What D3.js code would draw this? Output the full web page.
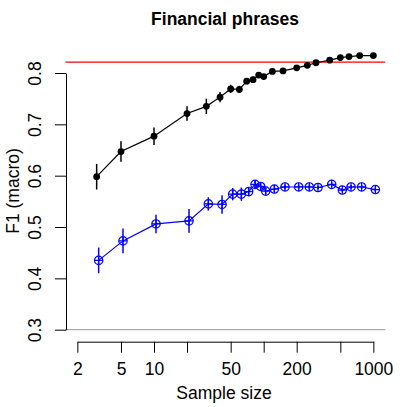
<!DOCTYPE html>
<html>
<head>
<meta charset="utf-8">
<script src="https://cdn.jsdelivr.net/npm/d3@7"></script>
<style>
  body { margin: 0; background: #fff; }
  svg { display: block; font-family: "Liberation Sans", Arial, sans-serif; }
</style>
</head>
<body>
<svg width="407" height="407"></svg>
<script>
// sample sizes (shared by both series)
var sampleSizes = [3, 5, 10, 20, 30, 40, 50, 60, 70, 80, 90, 100, 120, 150, 200, 250, 300, 400, 500, 600, 750, 1000];

// black series: mean F1 and error half-width
var blackF1  = [0.598, 0.647, 0.677, 0.721, 0.735, 0.753, 0.769, 0.768, 0.784, 0.787, 0.796, 0.793,
                0.803, 0.804, 0.810, 0.815, 0.820, 0.825, 0.830, 0.832, 0.834, 0.834];
var blackErr = [0.025, 0.020, 0.017, 0.014, 0.015, 0.010, 0.008, 0.007, 0.006, 0.006, 0.005, 0.005,
                0.004, 0.004, 0.003, 0.003, 0.003, 0.002, 0.002, 0.002, 0.002, 0.002];

// blue series
var blueF1  = [0.435, 0.473, 0.506, 0.512, 0.545, 0.544, 0.564, 0.564, 0.569, 0.583, 0.579, 0.570,
               0.574, 0.578, 0.578, 0.578, 0.577, 0.583, 0.572, 0.578, 0.578, 0.573];
var blueErr = [0.025, 0.024, 0.018, 0.023, 0.013, 0.018, 0.012, 0.013, 0.009, 0.008, 0.007, 0.006,
               0.006, 0.005, 0.005, 0.005, 0.004, 0.004, 0.004, 0.004, 0.004, 0.004];

var refLine = 0.821;
var baseLine = 0.3;

var xTicks = [2, 5, 10, 20, 50, 100, 200, 500, 1000];
var xLabelled = [2, 5, 10, 50, 200, 1000];
var yTicks = [0.3, 0.4, 0.5, 0.6, 0.7, 0.8];

var svg = d3.select('svg');
var left = 65.5, right = 385.2;
var fs = '17.5px';

var x = d3.scaleLog()
    .domain([Math.pow(10, 0.193), Math.pow(10, 3.108)])
    .range([left, right]);

var y = d3.scaleLinear()
    .domain([0.3, 0.8])
    .range([329.7, 73]);

var blueDodge = 2;

// title
svg.append('text')
    .attr('x', 225)
    .attr('y', 25)
    .attr('text-anchor', 'middle')
    .attr('font-weight', 'bold')
    .attr('font-size', '17.5px')
    .text('Financial phrases');

// reference lines
svg.append('line')
    .attr('x1', left).attr('x2', right)
    .attr('y1', y(baseLine)).attr('y2', y(baseLine))
    .attr('stroke', '#aaaaaa')
    .attr('stroke-width', 1.2);

svg.append('line')
    .attr('x1', left).attr('x2', right)
    .attr('y1', y(refLine)).attr('y2', y(refLine))
    .attr('stroke', '#ff0000')
    .attr('stroke-width', 1.2);

// x axis (line only spans 2..1000)
var xAxisScale = x.copy().domain([2, 1000]).range([x(2), x(1000)]);
var xAxis = d3.axisBottom(xAxisScale)
    .tickValues(xTicks)
    .tickSize(11)
    .tickSizeOuter(0)
    .tickPadding(10)
    .tickFormat(d => xLabelled.indexOf(d) >= 0 ? String(d) : '');

var gx = svg.append('g')
    .attr('transform', 'translate(0,' + 341.7 + ')')
    .call(xAxis);
gx.selectAll('text').attr('font-size', fs).attr('fill', '#000').attr('font-family', null);
gx.selectAll('line, path').attr('stroke', '#000').attr('stroke-width', 1);

svg.append('text')
    .attr('x', 224)
    .attr('y', 399)
    .attr('text-anchor', 'middle')
    .attr('font-size', fs)
    .text('Sample size');

// y axis
var yAxis = d3.axisLeft(y)
    .tickValues(yTicks)
    .tickSize(11)
    .tickSizeOuter(0)
    .tickFormat(d3.format('.1f'));

var gy = svg.append('g')
    .attr('transform', 'translate(' + 66 + ',0)')
    .call(yAxis);
gy.selectAll('line, path').attr('stroke', '#000').attr('stroke-width', 1);
gy.selectAll('text')
    .attr('x', null)
    .attr('dy', '0.35em')
    .attr('text-anchor', 'middle')
    .attr('transform', 'translate(-31.5,0) rotate(-90)')
    .attr('font-size', fs)
    .attr('font-family', null)
    .attr('fill', '#000');

svg.append('text')
    .attr('transform', 'translate(13,191) rotate(-90)')
    .attr('dy', '0.35em')
    .attr('text-anchor', 'middle')
    .attr('font-size', fs)
    .text('F1 (macro)');

// series
function series(values, errs, color, dodge) {
    var pts = sampleSizes.map((n, i) => ({ n: n, v: values[i], e: errs[i] }));
    var g = svg.append('g');
    var line = d3.line()
        .x(d => x(d.n) + dodge)
        .y(d => y(d.v));
    g.append('path')
        .datum(pts)
        .attr('d', line)
        .attr('fill', 'none')
        .attr('stroke', color)
        .attr('stroke-width', 1.2);
    g.selectAll('.err')
        .data(pts)
        .enter()
        .append('line')
            .attr('x1', d => x(d.n) + dodge)
            .attr('x2', d => x(d.n) + dodge)
            .attr('y1', d => y(d.v - d.e))
            .attr('y2', d => y(d.v + d.e))
            .attr('stroke', color)
            .attr('stroke-width', 1.5);
    return { g: g, pts: pts };
}

var black = series(blackF1, blackErr, '#000', 0);
black.g.selectAll('.pt')
    .data(black.pts)
    .enter()
    .append('circle')
        .attr('cx', d => x(d.n))
        .attr('cy', d => y(d.v))
        .attr('r', 3.4)
        .attr('fill', '#000');

var blue = series(blueF1, blueErr, '#0000ff', blueDodge);
var mk = blue.g.selectAll('.pt')
    .data(blue.pts)
    .enter()
    .append('g')
        .attr('transform', d => 'translate(' + (x(d.n) + blueDodge) + ',' + y(d.v) + ')');
mk.append('circle')
    .attr('r', 4.2)
    .attr('fill', 'none')
    .attr('stroke', '#0000ff')
    .attr('stroke-width', 1.2);
mk.append('path')
    .attr('d', 'M-4.2,0H4.2M0,-4.2V4.2')
    .attr('stroke', '#0000ff')
    .attr('stroke-width', 1.2);
</script>
</body>
</html>
